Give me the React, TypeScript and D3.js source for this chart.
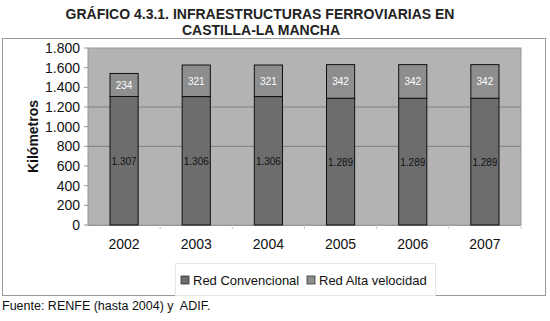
import React from "react";
import * as d3 from "d3";

const years = ["2002", "2003", "2004", "2005", "2006", "2007"];
const convencional = [1307, 1306, 1306, 1289, 1289, 1289];
const altaVelocidad = [234, 321, 321, 342, 342, 342];
const yTicks = [0, 200, 400, 600, 800, 1000, 1200, 1400, 1600, 1800];
const gridValues = [800, 1200];
const seriesNames = ["Red Convencional", "Red Alta velocidad"];

const fmt = (v: number) => d3.format(",")(v).replace(/,/g, ".");

export default function App() {
  const W = 550, H = 321;
  const left = 88, right = 521, top = 48, bottom = 225;
  const x = d3.scaleBand().domain(years).range([left, right]).paddingInner(0.61).paddingOuter(0.305);
  const y = d3.scaleLinear().domain([0, 1800]).range([bottom, top]);
  const colConv = "#6d6d6d";
  const colAlta = "#8e8e8e";
  const font = "Arial, 'Liberation Sans', sans-serif";
  const step = (right - left) / years.length;
  return (
    <svg width={W} height={H} style={{ position: "absolute", left: 0, top: 0, fontFamily: font }}>
      <rect x={0} y={0} width={W} height={H} fill="#fff" />
      <text x={260} y={19} textAnchor="middle" fontSize={14} fontWeight="bold" fill="#222">GRÁFICO 4.3.1. INFRAESTRUCTURAS FERROVIARIAS EN</text>
      <text x={261} y={35} textAnchor="middle" fontSize={14} fontWeight="bold" fill="#222">CASTILLA-LA MANCHA</text>
      <rect x={2.5} y={38.5} width={543} height={257} fill="#fff" stroke="#999" strokeWidth={1} />
      <rect x={left} y={top} width={right - left} height={bottom - top} fill="#b3b3b3" stroke="#999" strokeWidth={1} />
      {gridValues.map((g) => (
        <line key={g} x1={left} x2={right} y1={y(g)} y2={y(g)} stroke="#808080" strokeWidth={1} />
      ))}
      {yTicks.map((t) => (
        <g key={t}>
          <line x1={left - 4} x2={left} y1={y(t)} y2={y(t)} stroke="#999" />
          <text x={left - 8} y={y(t) + 5} textAnchor="end" fontSize={14} fill="#111">{fmt(t)}</text>
        </g>
      ))}
      <line x1={left} x2={right} y1={bottom + 0.5} y2={bottom + 0.5} stroke="#999" />
      {years.map((yr, i) => (
        <line key={"t" + i} x1={left + step * (i + 1)} x2={left + step * (i + 1)} y1={bottom} y2={bottom + 4} stroke="#ccc" />
      ))}
      <text transform={`translate(38,${(top + bottom) / 2}) rotate(-90)`} textAnchor="middle" fontSize={14} fontWeight="bold" fill="#111">Kilómetros</text>
      {years.map((yr, i) => {
        const bx = x(yr)!;
        const bw = x.bandwidth();
        const c = convencional[i];
        const a = altaVelocidad[i];
        return (
          <g key={yr}>
            <rect x={bx} y={y(c)} width={bw} height={y(0) - y(c)} fill={colConv} stroke="#111" strokeWidth={1} />
            <rect x={bx} y={y(c + a)} width={bw} height={y(c) - y(c + a)} fill={colAlta} stroke="#111" strokeWidth={1} />
            <text x={bx + bw / 2} y={(y(0) + y(c)) / 2 + 4} textAnchor="middle" fontSize={10} fill="#111">{fmt(c)}</text>
            <text x={bx + bw / 2} y={(y(c) + y(c + a)) / 2 + 4} textAnchor="middle" fontSize={10} fill="#fff">{fmt(a)}</text>
            <text x={bx + bw / 2} y={249} textAnchor="middle" fontSize={14} fill="#111">{yr}</text>
          </g>
        );
      })}
      <rect x={175.5} y={263.5} width={260} height={32} fill="#fff" stroke="#e6e6e6" />
      <rect x={181} y={276} width={8} height={8} fill={colConv} stroke="#333" strokeWidth={0.8} />
      <text x={193} y={285} fontSize={13} fill="#111">{seriesNames[0]}</text>
      <rect x={307} y={276} width={8} height={8} fill={colAlta} stroke="#333" strokeWidth={0.8} />
      <text x={319} y={285} fontSize={13} fill="#111">{seriesNames[1]}</text>
      <text x={2} y={310} fontSize={12.5} fill="#111">{"Fuente: RENFE (hasta 2004) y\u00a0 ADIF."}</text>
    </svg>
  );
}
